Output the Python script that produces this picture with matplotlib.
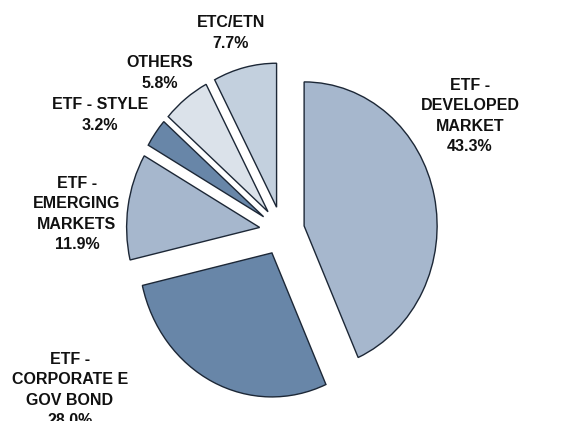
import matplotlib.pyplot as plt

# data
labels = ["ETF -\nDEVELOPED\nMARKET", "ETF -\nCORPORATE E\nGOV BOND", "ETF -\nEMERGING\nMARKETS",
          "ETF - STYLE", "OTHERS", "ETC/ETN"]
shares = [43.3, 28.0, 11.9, 3.2, 5.8, 7.7]
colors = ["#a6b7cd", "#6886a8", "#a6b7cd", "#6886a8", "#dbe2ea", "#c3d0de"]

# label centres in pixels (x from left, y from top)
label_px = [(470, 116), (70, 390), (77, 214), (100, 115), (160, 73), (231, 33)]

W, H = 562, 421
fig = plt.figure(figsize=(W / 100, H / 100), dpi=100)
ax = fig.add_axes([0, 0, 1, 1])

wedges, _ = ax.pie(shares, colors=colors, startangle=90, counterclock=False,
                   explode=[0.17] * len(shares),
                   wedgeprops=dict(edgecolor="#1c2736", linewidth=1.0))

# pie is a bit taller than wide in the original
cx, cy, rx, ry = 282, 231, 133, 144
ax.set_aspect("auto")
ax.set_xlim(-cx / rx, (W - cx) / rx)
ax.set_ylim(-(H - cy) / ry, cy / ry)
ax.axis("off")

for lab, val, (px, py) in zip(labels, shares, label_px):
    fig.text(px / W, 1 - py / H, f"{lab}\n{val:.1f}%", ha="center", va="center",
             fontsize=11.5, fontweight="bold", family="Liberation Sans",
             linespacing=1.45, color="#111111")

fig.savefig("out.png", dpi=100)
